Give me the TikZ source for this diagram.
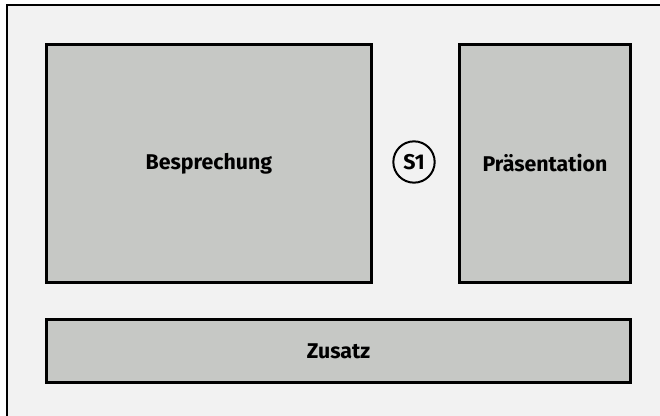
\documentclass[tikz,border=0pt]{standalone}
\usepackage{fontspec}
\setmainfont{Fira Sans}
\usepackage{tikz}
\usetikzlibrary{positioning}
\definecolor{paper}{HTML}{F2F2F2}
\definecolor{zone}{HTML}{C6C8C5}

\begin{document}
\begin{tikzpicture}[x=0.75pt,y=-0.75pt,font=\bfseries\fontsize{16}{19}\selectfont,
  zone/.style={draw=black,fill=zone,line width=2.2pt,inner sep=0pt,anchor=north west},
  marker/.style={draw=black,circle,line width=1.5pt,minimum size=31pt,inner sep=0pt}]
  \clip (0,0) rectangle (660,416);
  \useasboundingbox (0,0) rectangle (660,416);
  \draw[fill=paper,line width=1.9pt] (7,5) rectangle (700,460);
  \node[zone,minimum width=243.75pt,minimum height=178.5pt] (besprechung) at (45,43) {};
  \node[zone,minimum width=128.25pt,minimum height=178.5pt] (praesentation) at (458,43) {};
  \node[zone,minimum width=438pt,minimum height=47.25pt] (zusatz) at (45,318) {};
  \node at (besprechung.center) {Besprechung};
  \node at (praesentation.center) {Präsentation};
  \node at (zusatz.center) {Zusatz};
  \node[marker] (s1) at (414,162) {S1};
\end{tikzpicture}
\end{document}
